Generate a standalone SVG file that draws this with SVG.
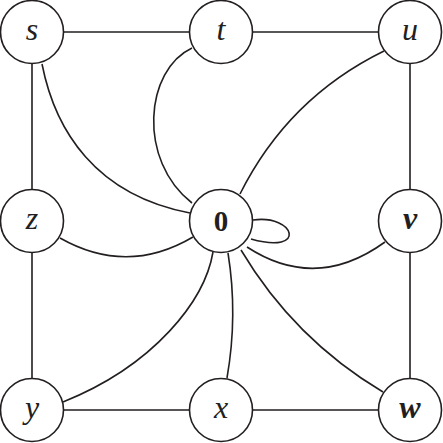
<svg xmlns="http://www.w3.org/2000/svg" width="443" height="443" viewBox="0 0 443 443">
<style>
.e{fill:none;stroke:#231f20;stroke-width:1.6}
.n circle{fill:#fff;stroke:#231f20;stroke-width:1.6}
.n text{font-family:"Liberation Serif","Times New Roman",serif;font-style:italic;font-size:32px;fill:#231f20;text-anchor:middle}
.n text.b{font-weight:bold}
.n text.z{font-style:normal;font-weight:bold;font-size:29px}
</style>
<rect width="443" height="443" fill="#fff"/>
<g id="connectors">
<path class="e" d="M32,32H410M32,410H410M32,32V410M410,32V410"/>
<path class="e" d="M42,64 C55,130 95,195 190,213"/>
<path class="e" d="M192,48 C145,70 137,160 192,203"/>
<path class="e" d="M240,194 Q288,98 384,51"/>
<path class="e" d="M60,238 Q127,276 193,237"/>
<path class="e" d="M213,252 C205,300 155,365 63,402"/>
<path class="e" d="M228,253 Q238,315 227,378"/>
<path class="e" d="M247,247 Q316,292 385,242"/>
<path class="e" d="M241,250 Q294,339 383,392"/>
<path class="e" d="M253,220 C295,214 308,255 251,239"/>
</g>
<g id="node-s" class="n"><circle cx="32" cy="32" r="31.5"/><text x="32" y="40">s</text></g>
<g id="node-t" class="n"><circle cx="221" cy="32" r="31.5"/><text x="221" y="40">t</text></g>
<g id="node-u" class="n"><circle cx="410" cy="32" r="31.5"/><text x="410" y="40">u</text></g>
<g id="node-z" class="n"><circle cx="32" cy="221" r="31.5"/><text x="32" y="229">z</text></g>
<g id="node-0" class="n"><circle cx="221" cy="221" r="31.5"/><text class="z" x="221" y="231">0</text></g>
<g id="node-v" class="n"><circle cx="410" cy="221" r="31.5"/><text class="b" x="410" y="229">v</text></g>
<g id="node-y" class="n"><circle cx="32" cy="410" r="31.5"/><text x="32" y="418">y</text></g>
<g id="node-x" class="n"><circle cx="221" cy="410" r="31.5"/><text x="221" y="418">x</text></g>
<g id="node-w" class="n"><circle cx="410" cy="410" r="31.5"/><text class="b" x="410" y="418">w</text></g>
</svg>
